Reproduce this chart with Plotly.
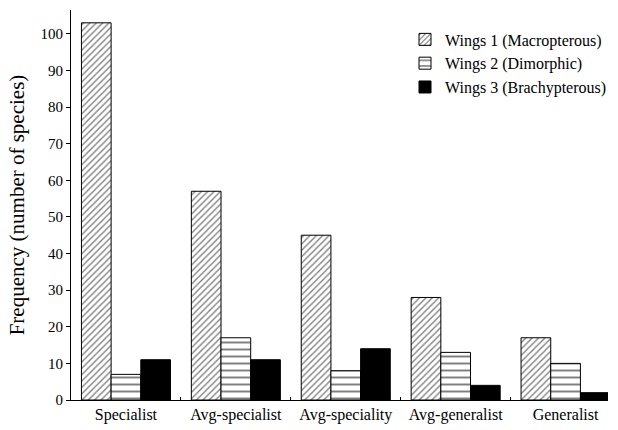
import plotly.graph_objects as go

categories = ["Specialist", "Avg-specialist", "Avg-speciality", "Avg-generalist", "Generalist"]
wings1 = [103, 57, 45, 28, 17]
wings2 = [7, 17, 8, 13, 10]
wings3 = [11, 11, 14, 4, 2]
series_names = ["Wings 1 (Macropterous)", "Wings 2 (Dimorphic)", "Wings 3 (Brachypterous)"]
y_ticks = [0, 10, 20, 30, 40, 50, 60, 70, 80, 90, 100]

font = "Times New Roman"

fig = go.Figure()
fig.add_trace(go.Bar(
    x=categories, y=wings1, name=series_names[0],
    marker=dict(color="white", line=dict(color="black", width=1),
                pattern=dict(shape="/", size=4.5, solidity=0.3, fgcolor="black", bgcolor="white")),
))
fig.add_trace(go.Bar(
    x=categories, y=wings2, name=series_names[1],
    marker=dict(color="white", line=dict(color="black", width=1),
                pattern=dict(shape="-", size=7, solidity=0.28, fgcolor="black", bgcolor="white")),
))
fig.add_trace(go.Bar(
    x=categories, y=wings3, name=series_names[2],
    marker=dict(color="black", line=dict(color="black", width=1)),
))

fig.update_layout(
    width=618, height=430,
    margin=dict(l=71, r=10, t=10, b=30, autoexpand=False),
    paper_bgcolor="white", plot_bgcolor="white",
    barmode="group", bargap=0.19, bargroupgap=0,
    font=dict(family=font, size=15, color="black"),
    showlegend=True,
    legend=dict(x=0.622, y=0.968, xanchor="left", yanchor="top",
                bgcolor="rgba(0,0,0,0)", font=dict(size=16, family=font),
                tracegroupgap=0, itemwidth=30),
    xaxis=dict(
        range=[-0.5, 4.386], automargin=False,
        showline=True, linecolor="black", linewidth=1,
        ticks="inside", ticklen=3, tickson="boundaries", tickcolor="black",
        tickfont=dict(size=16, family=font),
        showgrid=False, zeroline=False,
    ),
    yaxis=dict(
        range=[0, 106.5], automargin=False,
        tickvals=y_ticks,
        showline=True, linecolor="black", linewidth=1,
        ticks="outside", ticklen=4, tickcolor="black",
        tickfont=dict(size=15, family=font),
        showgrid=False, zeroline=False,
        title=dict(text="Frequency (number of species)", font=dict(size=21, family=font), standoff=10),
    ),
)

fig.write_html("out.html", config={"displayModeBar": False},
               post_script="document.body.style.margin='0';document.body.style.overflow='hidden';")
